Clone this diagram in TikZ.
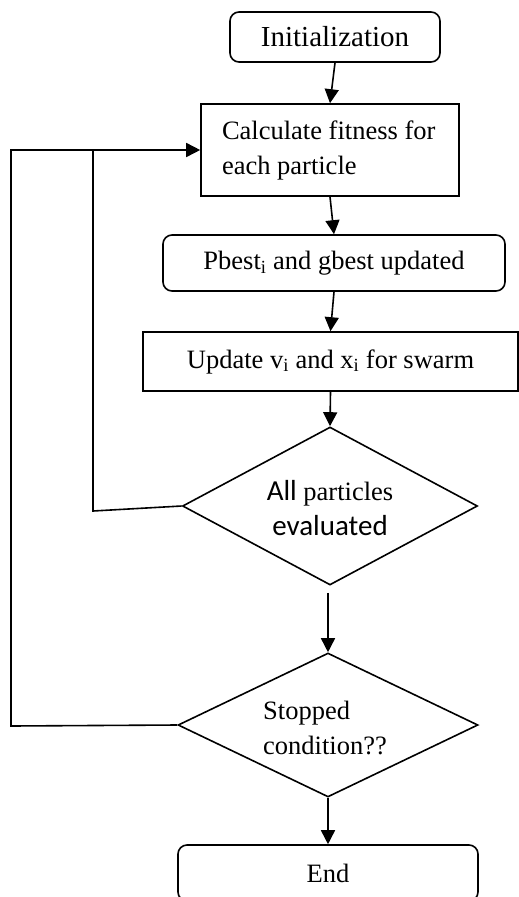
\documentclass[tikz,border=0pt]{standalone}
\usepackage{fontspec}
\setmainfont{Liberation Serif}
\newfontfamily\calfont{Carlito}
\usetikzlibrary{shapes.geometric,arrows.meta,positioning}
\tikzset{
  base/.style={draw=black,line width=1.6pt,inner sep=0pt,font=\fontsize{26.5}{35}\selectfont},
  procbox/.style={base,rectangle},
  roundbox/.style={base,rectangle,rounded corners=9pt},
  decision/.style={base,diamond},
  lbl/.style={inner sep=0pt,font=\fontsize{26.5}{35}\selectfont},
  arr/.style={line width=1.6pt,-{Triangle[length=14pt,width=14pt]}},
  ln/.style={line width=1.6pt},
}
\begin{document}
\begin{tikzpicture}[x=1pt,y=-1pt]
\clip (0,0) rectangle (519,897);
\fill[white] (0,0) rectangle (519,897);
% nodes
\node[roundbox,minimum width=210pt,minimum height=50pt,font=\fontsize{29}{35}\selectfont] (init) at (335,37) {Initialization};
\node[procbox,minimum width=258pt,minimum height=92pt,text width=216pt,align=flush left] (calc) at (330,150) {Calculate fitness for\\each particle};
\node[roundbox,minimum width=342pt,minimum height=56pt] (pbest) at (334,263) {Pbest\textsubscript{i} and gbest updated};
\node[procbox,minimum width=375pt,minimum height=59pt] (upd) at (330.5,361.5) {Update v\textsubscript{i} and x\textsubscript{i} for swarm};
\node[decision,minimum width=295pt,minimum height=158pt] (d1) at (330,506) {};
\node[lbl,align=center] (d1t) at (330,508) {{\calfont\fontsize{29}{35}\selectfont All} particles\\{\calfont\fontsize{29}{35}\selectfont evaluated}};
\node[decision,minimum width=300pt,minimum height=144pt] (d2) at (328,725) {};
\node[lbl,align=flush left] (d2t) at (325,728) {Stopped\\condition??};
\node[roundbox,minimum width=300pt,minimum height=56pt] (endb) at (328,873) {End};
% helper coordinates
\coordinate (k1) at (93,511);
\coordinate (j1) at (93,150);
\coordinate (c1) at (11,726);
\coordinate (c2) at (11,150);
% connectors
\draw[arr] (init.south) -- (calc.north);
\draw[arr] (calc.south) -- (pbest.north);
\draw[arr] (pbest.south) -- (upd.north);
\draw[arr] (upd.south) -- (d1.north);
\draw[arr] ([xshift=-2pt,yshift=-7pt]d1.south) -- (d2.north);
\draw[arr] (d2.south) -- (endb.north);
\draw[ln] (d1.west) -- (k1) -- (j1);
\draw[arr] (d2.west) -- (c1) -- (c2) -- (calc.west);
\end{tikzpicture}
\end{document}
